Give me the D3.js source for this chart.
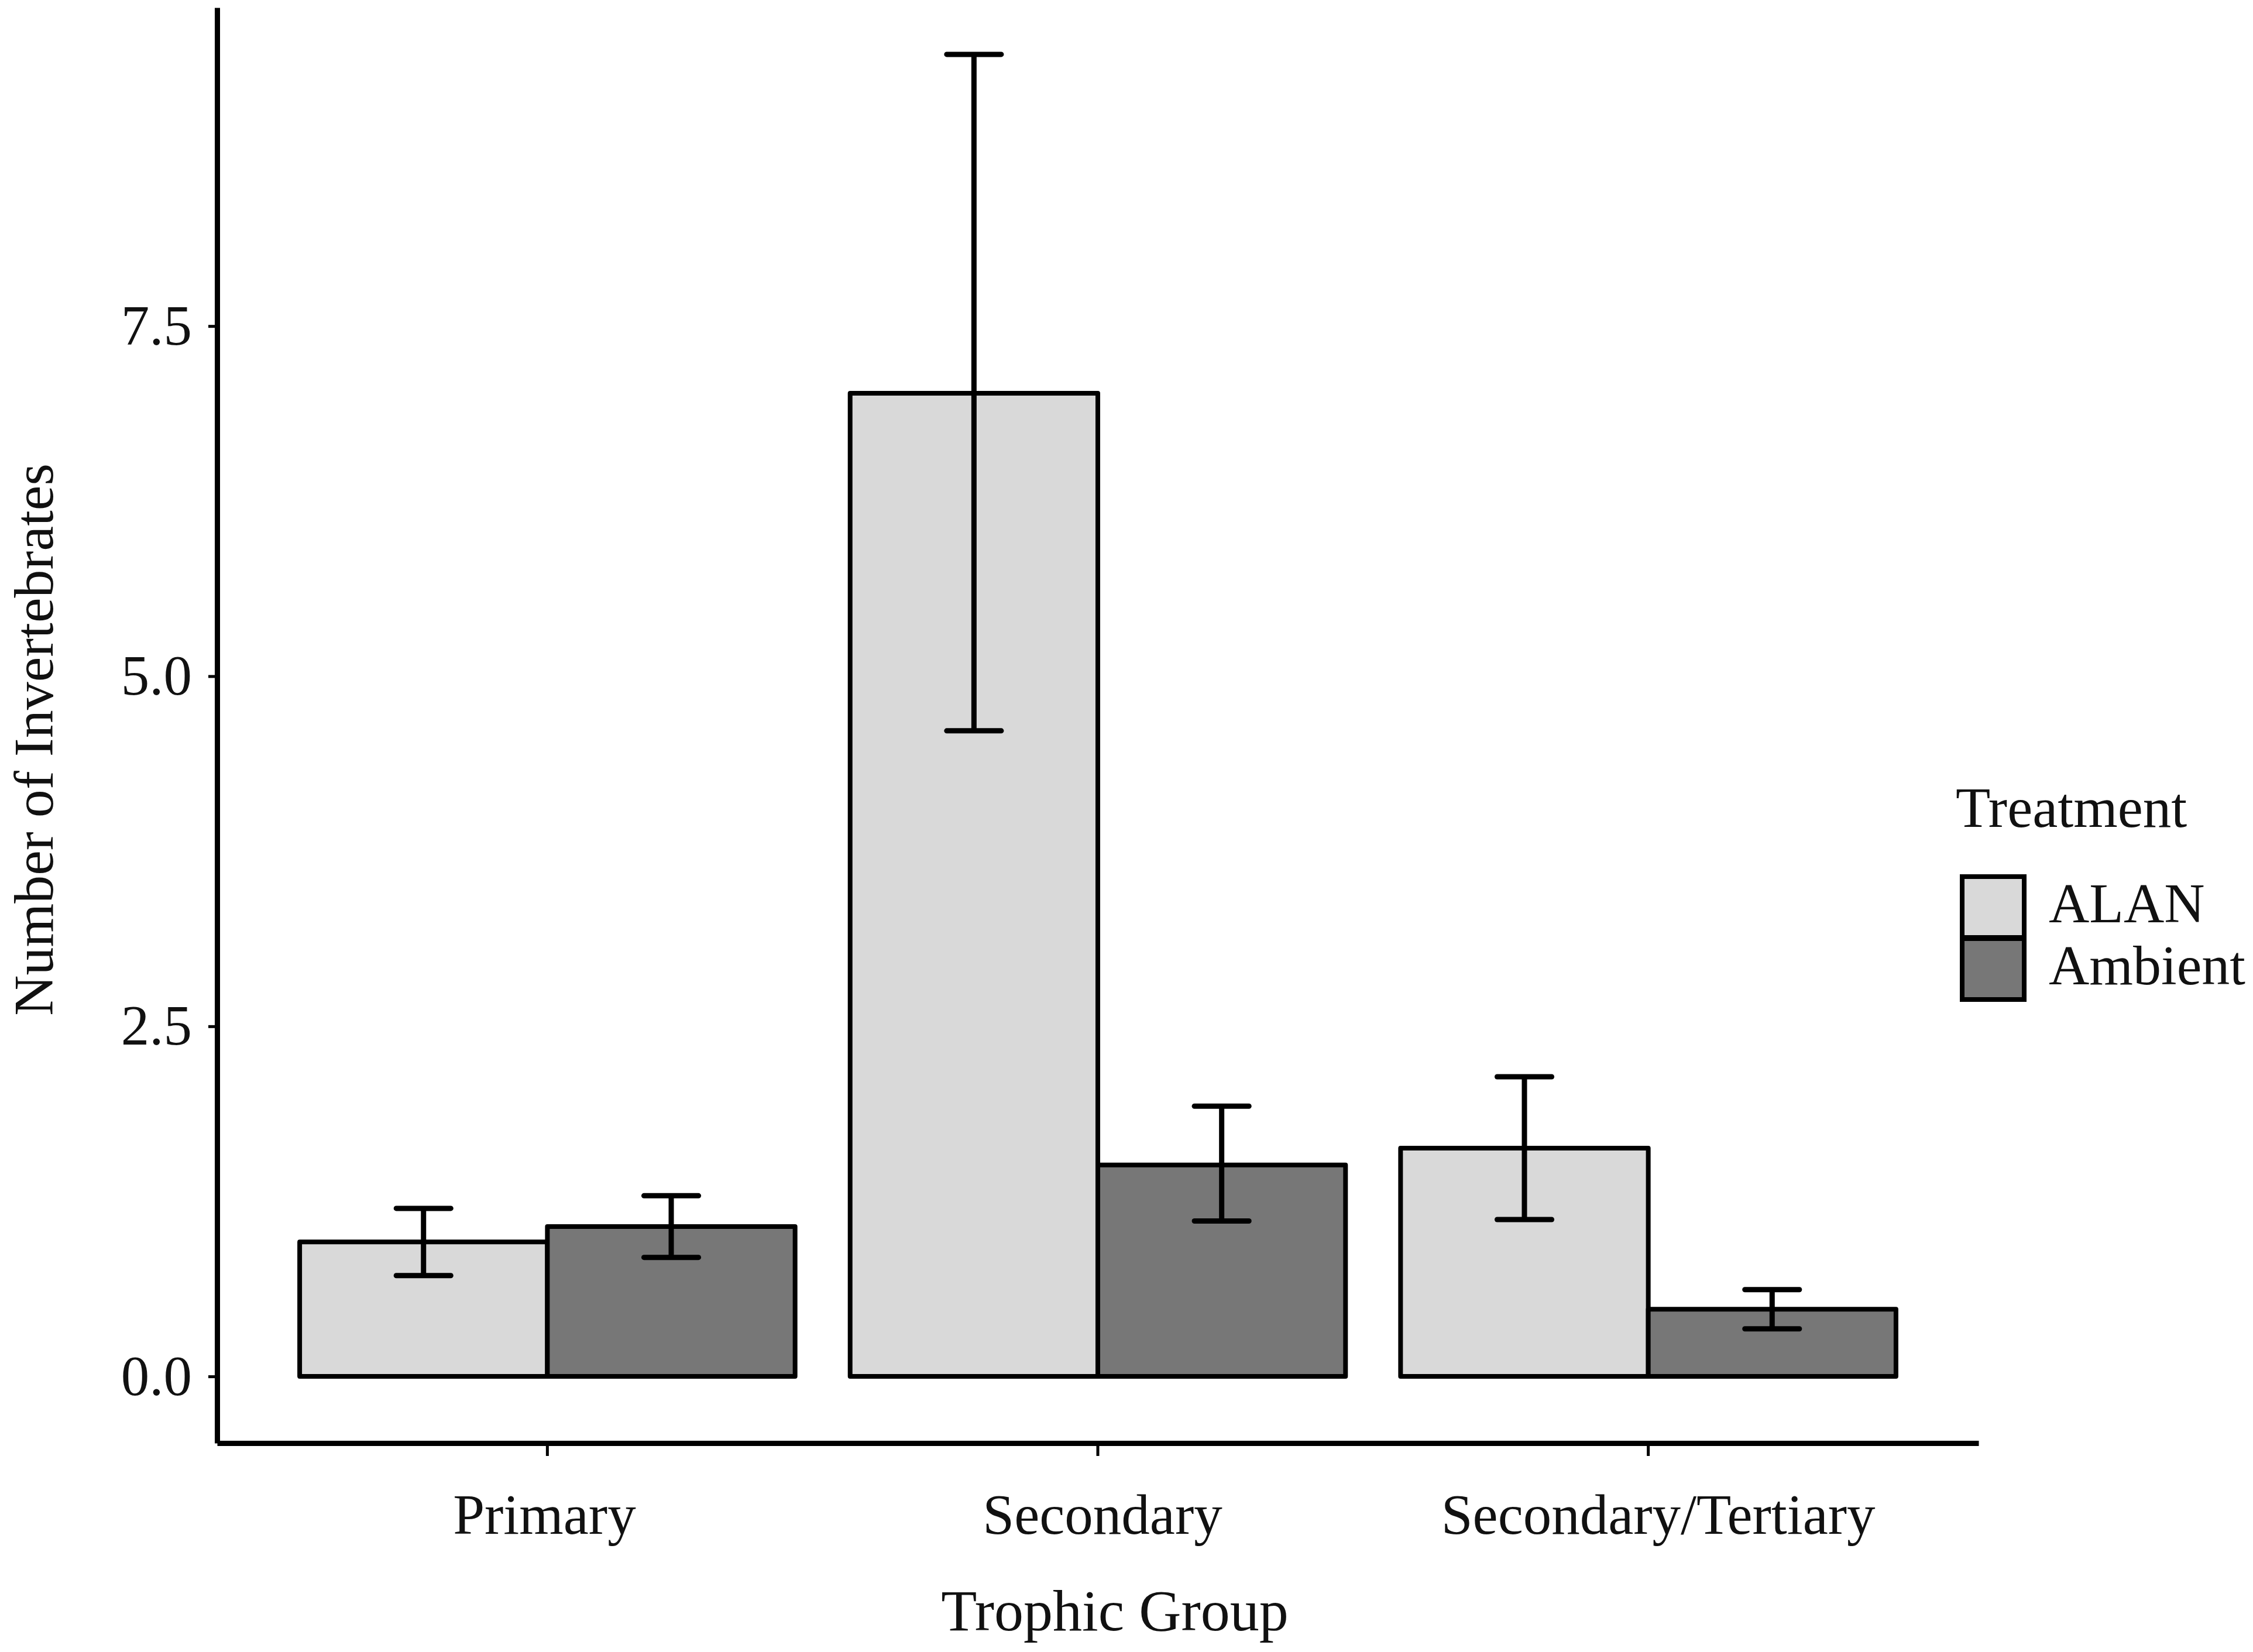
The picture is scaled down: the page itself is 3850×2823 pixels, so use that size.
<!DOCTYPE html>
<html>
<head>
<meta charset="utf-8">
<script src="https://cdn.jsdelivr.net/npm/d3@7"></script>
<style>
  body { margin: 0; background: #fff; }
  text { font-family: "Liberation Serif", "Times New Roman", serif; fill: #111; }
</style>
</head>
<body>
<script>
// data
var categories = ["Primary", "Secondary", "Secondary/Tertiary"];
var treatments = ["ALAN", "Ambient"];
var alanMeans = [0.96, 7.02, 1.63];
var alanLower = [0.72, 4.61, 1.12];
var alanUpper = [1.20, 9.44, 2.14];
var ambientMeans = [1.07, 1.51, 0.48];
var ambientLower = [0.85, 1.11, 0.34];
var ambientUpper = [1.29, 1.93, 0.62];
var yTicks = [0, 2.5, 5, 7.5];

var fills = { "ALAN": "#d9d9d9", "Ambient": "#777777" };

var width = 3850, height = 2823;
var panel = { left: 371, right: 3381, top: 13, bottom: 2466 };

var rows = [];
categories.forEach(function (c, i) {
    rows.push({ cat: c, trt: "ALAN", mean: alanMeans[i], lo: alanLower[i], hi: alanUpper[i] });
    rows.push({ cat: c, trt: "Ambient", mean: ambientMeans[i], lo: ambientLower[i], hi: ambientUpper[i] });
});

var svg = d3.select("body")
    .append("svg")
    .attr("width", width)
    .attr("height", height);

svg.append("rect").attr("width", width).attr("height", height).attr("fill", "#fff");

var x = d3.scaleBand()
    .domain(categories)
    .range([panel.left, panel.right])
    .paddingInner(0.1)
    .paddingOuter(0.15);

var xSub = d3.scaleBand()
    .domain(treatments)
    .range([0, x.bandwidth()]);

var y = d3.scaleLinear()
    .domain([-0.476, 9.774])
    .range([panel.bottom, panel.top]);

// bars
svg.append("g")
    .selectAll("rect")
    .data(rows)
    .enter().append("rect")
    .attr("x", d => x(d.cat) + xSub(d.trt))
    .attr("y", d => y(d.mean))
    .attr("width", xSub.bandwidth())
    .attr("height", d => y(0) - y(d.mean))
    .attr("fill", d => fills[d.trt])
    .attr("stroke", "#000")
    .attr("stroke-width", 8)
    .attr("stroke-linejoin", "round");

// error bars
var capHalf = xSub.bandwidth() * 0.11;
var err = svg.append("g")
    .attr("stroke", "#000")
    .attr("stroke-width", 9)
    .selectAll("g")
    .data(rows)
    .enter().append("g")
    .attr("transform", d => "translate(" + (x(d.cat) + xSub(d.trt) + xSub.bandwidth() / 2) + ",0)");

err.append("line")
    .attr("x1", 0).attr("x2", 0)
    .attr("y1", d => y(d.lo)).attr("y2", d => y(d.hi));
err.append("line")
    .attr("x1", -capHalf).attr("x2", capHalf)
    .attr("y1", d => y(d.hi)).attr("y2", d => y(d.hi))
    .attr("stroke-linecap", "round");
err.append("line")
    .attr("x1", -capHalf).attr("x2", capHalf)
    .attr("y1", d => y(d.lo)).attr("y2", d => y(d.lo))
    .attr("stroke-linecap", "round");

// axes
var yAxis = svg.append("g")
    .attr("transform", "translate(" + panel.left + ",0)")
    .call(d3.axisLeft(y).tickValues(yTicks).tickFormat(d3.format(".1f"))
        .tickSize(15).tickSizeOuter(0).tickPadding(28));

var xAxis = svg.append("g")
    .attr("transform", "translate(0," + panel.bottom + ")")
    .call(d3.axisBottom(x).tickSize(22).tickSizeOuter(0).tickPadding(64));

[yAxis, xAxis].forEach(function (a) {
    a.select(".domain").attr("stroke", "#000").attr("stroke-width", 9);
    a.selectAll(".tick line").attr("stroke", "#000").attr("stroke-width", 5);
    a.selectAll(".tick text")
        .style("font-family", "'Liberation Serif', serif")
        .style("font-size", "97px")
        .attr("fill", "#111");
});

// nudge the category labels the way the figure has them
xAxis.selectAll(".tick text").attr("dx", (d, i) => [-5, 8, 17][i]);

// axis titles
svg.append("text")
    .attr("x", 1905)
    .attr("y", 2786)
    .attr("text-anchor", "middle")
    .style("font-size", "100px")
    .text("Trophic Group");

svg.append("text")
    .attr("transform", "translate(90,1264) rotate(-90)")
    .attr("text-anchor", "middle")
    .style("font-size", "96px")
    .text("Number of Invertebrates");

// legend
var legend = svg.append("g").attr("transform", "translate(3353,1413)");
legend.append("text")
    .attr("x", -11)
    .attr("y", 0)
    .style("font-size", "97px")
    .text("Treatment");

var key = legend.selectAll("g.key")
    .data(treatments)
    .enter().append("g")
    .attr("class", "key")
    .attr("transform", (d, i) => "translate(0," + (85 + i * 106) + ")");

key.append("rect")
    .attr("width", 106)
    .attr("height", 104)
    .attr("fill", d => fills[d])
    .attr("stroke", "#000")
    .attr("stroke-width", 8);

key.append("text")
    .attr("x", 148)
    .attr("y", 78)
    .style("font-size", "96px")
    .text(d => d);
</script>
</body>
</html>
